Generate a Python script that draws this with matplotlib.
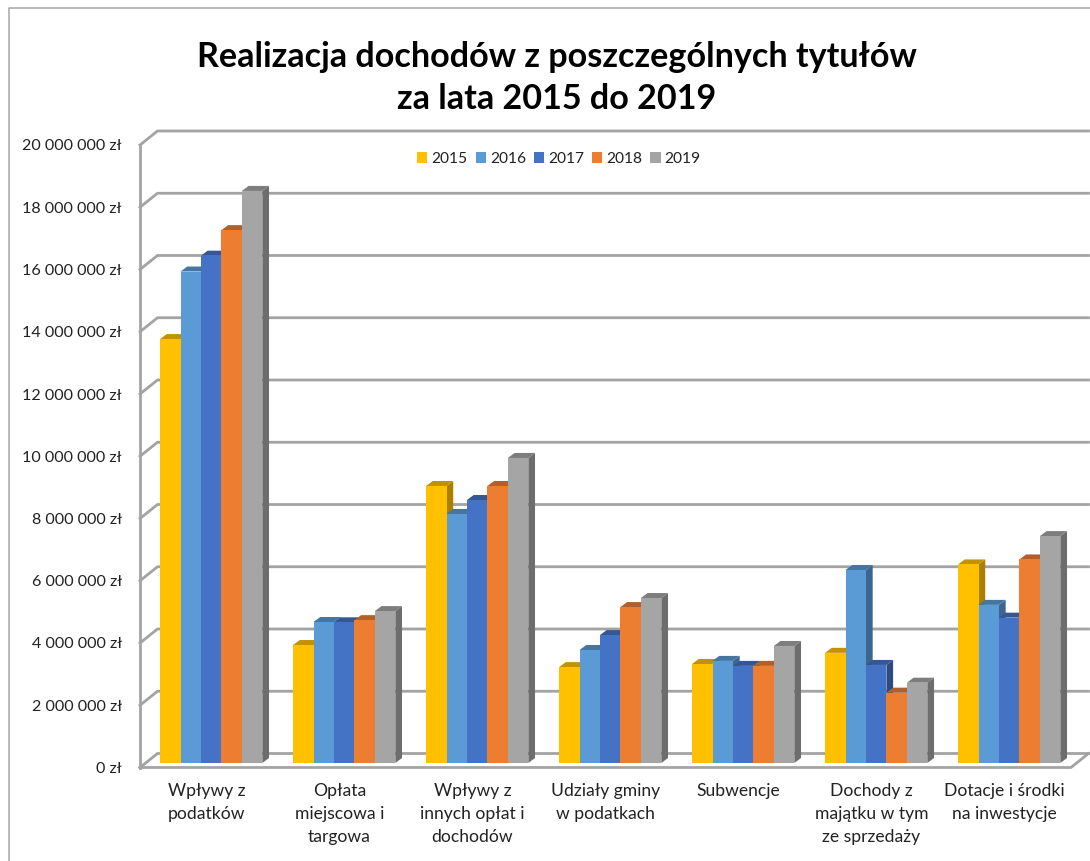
import matplotlib
matplotlib.use('Agg')
import matplotlib.pyplot as plt
from matplotlib.colors import to_rgb
from matplotlib.patches import Patch, Polygon
from matplotlib.lines import Line2D
import matplotlib.ticker as ticker

plt.rcParams['font.family'] = ['Lato', 'DejaVu Sans']

W, H = 1090, 861

categories = ['Wpływy z\npodatków', 'Opłata\nmiejscowa i\ntargowa', 'Wpływy z\ninnych opłat i\ndochodów',
              'Udziały gminy\nw podatkach', 'Subwencje', 'Dochody z\nmajątku w tym\nze sprzedaży',
              'Dotacje i środki\nna inwestycje']
years = ['2015', '2016', '2017', '2018', '2019']
v2015 = [13620000, 3790000, 8900000, 3080000, 3180000, 3540000, 6380000]
v2016 = [15790000, 4530000, 8000000, 3630000, 3280000, 6200000, 5080000]
v2017 = [16300000, 4520000, 8450000, 4110000, 3120000, 3150000, 4670000]
v2018 = [17120000, 4590000, 8900000, 5010000, 3120000, 2260000, 6540000]
v2019 = [18380000, 4880000, 9800000, 5300000, 3760000, 2580000, 7290000]
series = [v2015, v2016, v2017, v2018, v2019]
colors = ['#FFC000', '#5B9BD5', '#4472C4', '#ED7D31', '#A5A5A5']

# pixel sizes of the fake 3d box
left, right, top, bottom = 140, 1071, 145, 767.5
px_x = 7 / (right - left)
px_y = 20000000 / (bottom - top)
wall_dx, wall_dy = 17.5 * px_x, 14 * px_y
bar_w = 20.45 * px_x
bar_dx, bar_dy = 6.7 * px_x, 5 * px_y
lift = 4.5 * px_y
shift = 4.7 * px_x


def shade(c, f):
    return tuple(x * f for x in to_rgb(c))


fig = plt.figure(figsize=(W / 100, H / 100), dpi=100)
ax = fig.add_axes([left / W, 1 - bottom / H, (right - left) / W, (bottom - top) / H])
ax.set_xlim(-0.5, 6.5)
ax.set_ylim(0, 20000000)
for s in ax.spines.values():
    s.set_visible(False)

# walls
wall = '#a3a3a3'
ticks = list(range(0, 20000001, 2000000))
for t in ticks:
    ax.plot([-0.5, -0.5 + wall_dx, 6.5 + wall_dx], [t, t + wall_dy, t + wall_dy],
            color=wall, lw=2, clip_on=False, zorder=1, solid_joinstyle='miter')
ax.plot([-0.5, -0.5], [0, 20000000], color=wall, lw=2, clip_on=False, zorder=1)
ax.plot([-0.5, 6.5, 6.5 + wall_dx], [0, 0, wall_dy], color=wall, lw=2, clip_on=False, zorder=1)

# bars, left to right so each one covers the side of the previous one
for c in range(len(categories)):
    for i, vals in enumerate(series):
        x0 = c + shift + (i - 2.5) * bar_w
        x1 = x0 + bar_w
        y1 = vals[c] + lift
        z = 3 + c * 10 + i
        ax.add_patch(Polygon([(x1, lift), (x1 + bar_dx, lift + bar_dy), (x1 + bar_dx, y1 + bar_dy), (x1, y1)],
                             closed=True, fc=shade(colors[i], 0.66), ec='none', zorder=z, clip_on=False))
        ax.add_patch(Polygon([(x0, y1), (x0 + bar_dx, y1 + bar_dy), (x1 + bar_dx, y1 + bar_dy), (x1, y1)],
                             closed=True, fc=shade(colors[i], 0.76), ec='none', zorder=z, clip_on=False))
        ax.bar(x0, vals[c], bar_w, bottom=lift, align='edge', color=colors[i], zorder=z + 0.5)

ax.yaxis.set_major_locator(ticker.FixedLocator(ticks))
ax.yaxis.set_major_formatter(ticker.FuncFormatter(lambda v, p: f'{int(v):,}'.replace(',', ' ') + ' zł'))
ax.set_xticks(range(len(categories)))
ax.set_xticklabels(categories, linespacing=1.55)
ax.tick_params(axis='y', length=0, pad=13, labelsize=11.6, labelcolor='#222222')
ax.tick_params(axis='x', length=0, pad=11, labelsize=12.6, labelcolor='#222222')

fig.text(557 / W, 1 - 78 / H, 'Realizacja dochodów z poszczególnych tytułów\nza lata 2015 do 2019',
         ha='center', va='center', fontsize=24.6, fontweight='bold', color='black', linespacing=1.36)

handles = [Patch(fc=col, ec='none') for col in colors]
fig.legend(handles, years, ncol=5, loc='center', bbox_to_anchor=(559 / W, 1 - 159 / H), frameon=False,
           fontsize=11.2, handlelength=0.65, handleheight=0.65, handletextpad=0.26, columnspacing=0.52,
           labelcolor='#222222')

# chart frame, top and left only in the crop
fig.add_artist(Line2D([9 / W, 9 / W, 1], [0, 1 - 8 / H, 1 - 8 / H], color='#a6a6a6', lw=1.1,
                      transform=fig.transFigure))

fig.savefig('out.png', dpi=100)
